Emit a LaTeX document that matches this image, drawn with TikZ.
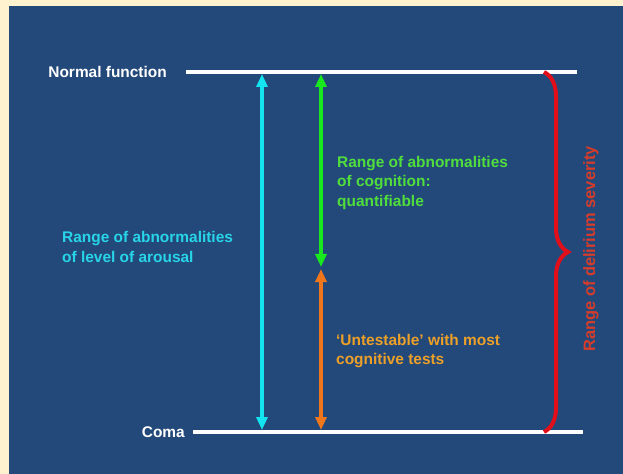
\documentclass[tikz,border=0pt]{standalone}
\usepackage{fontspec}
\setmainfont{Liberation Sans}
\usetikzlibrary{arrows.meta,decorations.pathreplacing}

\definecolor{cream}{RGB}{255,242,206}
\definecolor{bgblue}{RGB}{35,73,122}
\definecolor{arousal}{RGB}{20,228,240}
\definecolor{arousaltext}{RGB}{40,212,232}
\definecolor{cognition}{RGB}{25,232,30}
\definecolor{cognitiontext}{RGB}{80,222,60}
\definecolor{untest}{RGB}{240,118,28}
\definecolor{untesttext}{RGB}{236,160,40}
\definecolor{severity}{RGB}{226,14,26}
\definecolor{severitytext}{RGB}{214,60,42}

\tikzset{
  lbl/.style={inner sep=0pt, font=\fontsize{15.5}{19.5}\selectfont\bfseries, align=left},
  level/.style={draw=white, line width=4bp},
  spanarrow/.style={line width=3.5bp, {Triangle[width=11bp,length=13bp]}-{Triangle[width=11bp,length=13bp]}},
}

\begin{document}
\begin{tikzpicture}[x=1bp, y=-1bp]
  \useasboundingbox (0,0) rectangle (623,474);
  \fill[cream] (0,0) rectangle (623,474);
  \fill[bgblue] (9,6) rectangle (623,474);

  % the two levels
  \node (normal) [lbl, white, anchor=east] at (167,72) {Normal function};
  \node (coma) [lbl, white, anchor=east] at (185,432) {Coma};
  \coordinate (normal l) at (186,72);
  \coordinate (normal r) at (577,72);
  \coordinate (coma l) at (193,432);
  \coordinate (coma r) at (583,432);
  \draw[level] (normal l) -- (normal r);
  \draw[level] (coma l) -- (coma r);

  % ranges
  \coordinate (arousal top) at (262,74);
  \coordinate (arousal bot) at (262,430);
  \coordinate (cog top) at (321,74);
  \coordinate (cog bot) at (321,267);
  \coordinate (untest top) at (321,269);
  \coordinate (untest bot) at (321,430);
  \draw[spanarrow, arousal] (arousal top) -- (arousal bot);
  \draw[spanarrow, cognition] (cog top) -- (cog bot);
  \draw[spanarrow, untest] (untest top) -- (untest bot);

  \node (arousal) [lbl, arousaltext, anchor=west] at (62,247) {Range of abnormalities\\of level of arousal};
  \node (cog) [lbl, cognitiontext, anchor=west] at (337,183) {Range of abnormalities\\of cognition:\\quantifiable};
  \node (untest) [lbl, untesttext, anchor=west] at (336,351) {`Untestable' with most\\cognitive tests};

  % delirium severity
  \coordinate (sev top) at (544,72);
  \coordinate (sev bot) at (544,432);
  \draw[severity, line width=4bp, decorate, decoration={brace, amplitude=24bp, aspect=0.5}] (sev top) -- (sev bot);
  \node (sev) [lbl, severitytext, rotate=90, font=\fontsize{16.5}{20}\selectfont\bfseries] at (591,249) {Range of delirium severity};
\end{tikzpicture}
\end{document}
